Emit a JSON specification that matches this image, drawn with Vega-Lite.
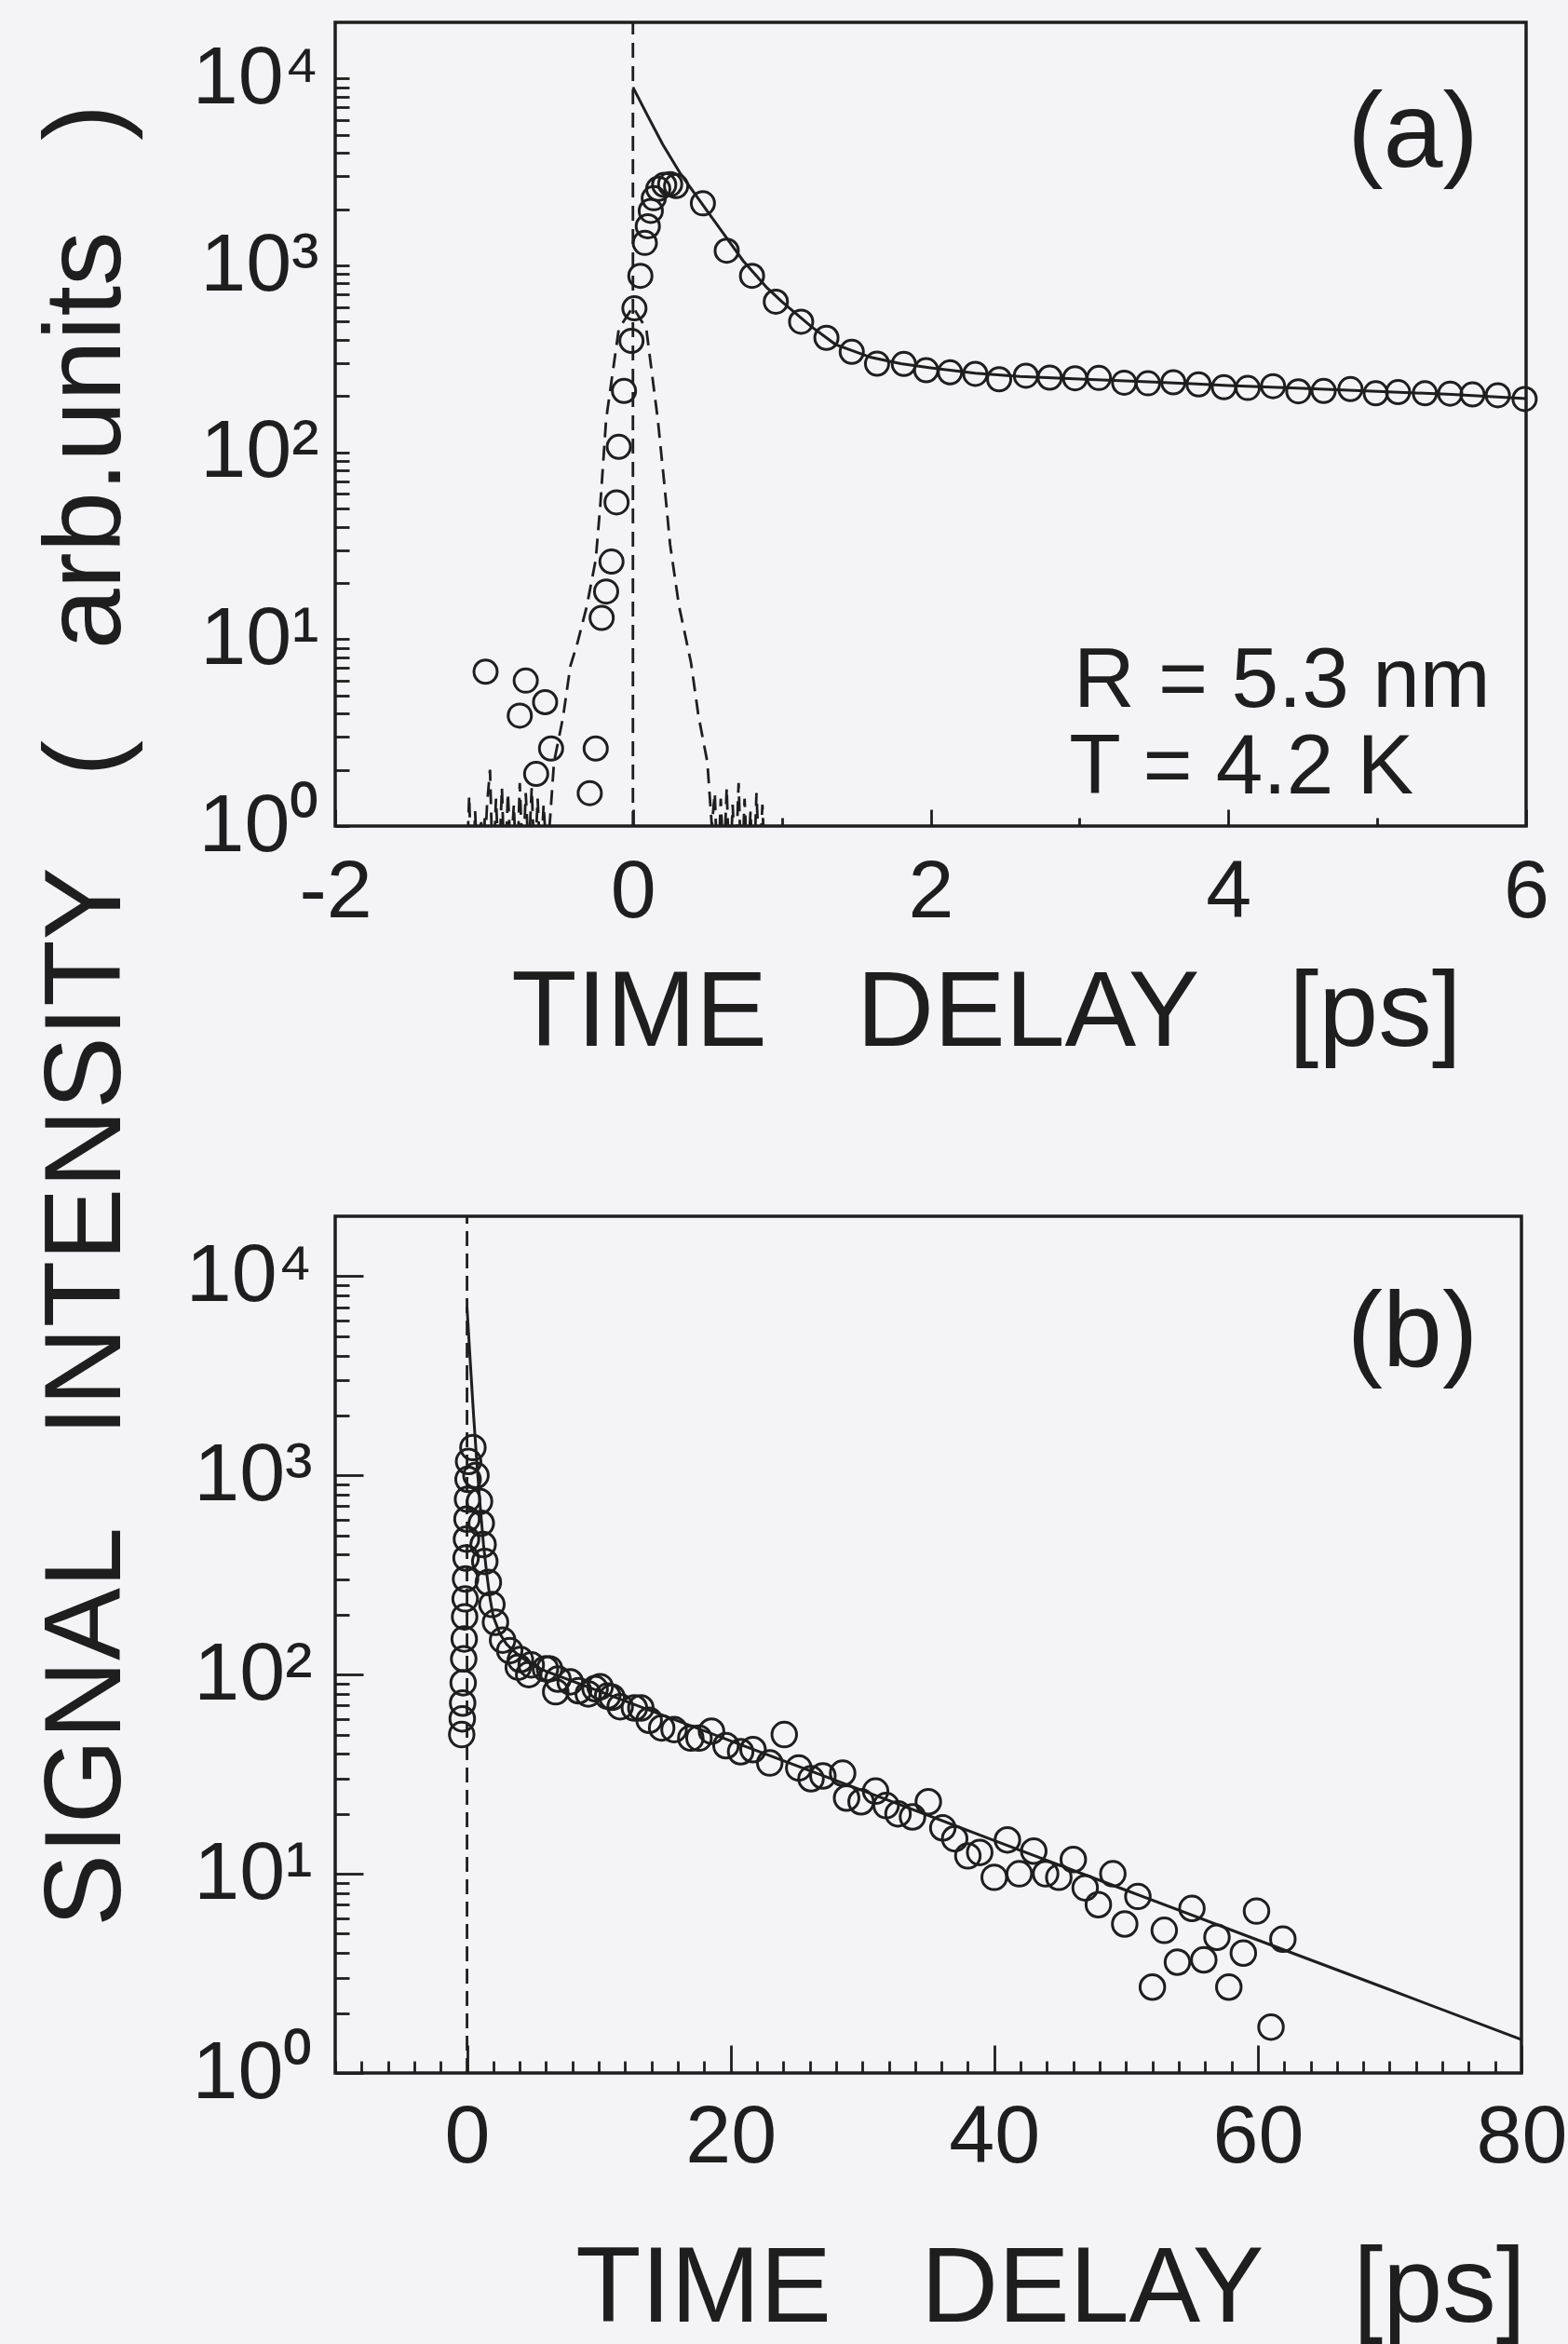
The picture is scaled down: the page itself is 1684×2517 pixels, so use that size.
{
  "$schema": "https://vega.github.io/schema/vega-lite/v6.json",
  "background": "#f4f4f6",
  "padding": {"left": 32, "top": 20, "right": 0, "bottom": 0},
  "bounds": "flush",
  "spacing": 419,
  "config": {
    "view": {"stroke": "#1e1e1e", "strokeWidth": 3.5},
    "axis": {"domain": false, "grid": false, "labelFont": "Liberation Sans", "titleFont": "Liberation Sans", "labelColor": "#1e1e1e", "titleColor": "#1e1e1e", "tickColor": "#1e1e1e", "tickWidth": 2.8, "titleFontWeight": "normal", "labelOverlap": false, "labelBound": false, "labelFlush": false},
    "text": {"font": "Liberation Sans", "color": "#1e1e1e"}
  },
  "datasets": {
    "aPts": [
      {"t": -0.99, "v": 6.7}, {"t": -0.76, "v": 3.9}, {"t": -0.72, "v": 6.0}, {"t": -0.65, "v": 1.9}, {"t": -0.59, "v": 4.6}, {"t": -0.55, "v": 2.6}, {"t": -0.29, "v": 1.5}, {"t": -0.25, "v": 2.6},
      {"t": -0.21, "v": 13}, {"t": -0.18, "v": 18}, {"t": -0.144, "v": 26}, {"t": -0.11, "v": 54}, {"t": -0.095, "v": 107}, {"t": -0.06, "v": 213}, {"t": -0.01, "v": 395}, {"t": 0.01, "v": 590}, {"t": 0.05, "v": 880}, {"t": 0.08, "v": 1320}, {"t": 0.10, "v": 1620}, {"t": 0.12, "v": 1960}, {"t": 0.14, "v": 2290}, {"t": 0.17, "v": 2570}, {"t": 0.21, "v": 2700}, {"t": 0.25, "v": 2720}, {"t": 0.29, "v": 2660},
      {"t": 0.47, "v": 2150}, {"t": 0.63, "v": 1200}, {"t": 0.80, "v": 880}, {"t": 0.96, "v": 640}, {"t": 1.13, "v": 500}, {"t": 1.30, "v": 410}, {"t": 1.47, "v": 345},
      {"t": 1.64, "v": 298}, {"t": 1.82, "v": 297}, {"t": 1.97, "v": 275}, {"t": 2.13, "v": 268}, {"t": 2.30, "v": 263}, {"t": 2.46, "v": 246}, {"t": 2.64, "v": 257}, {"t": 2.80, "v": 251}, {"t": 2.97, "v": 249}, {"t": 3.13, "v": 250}, {"t": 3.30, "v": 236}, {"t": 3.46, "v": 234}, {"t": 3.63, "v": 237}, {"t": 3.80, "v": 231}, {"t": 3.97, "v": 223}, {"t": 4.13, "v": 221}, {"t": 4.30, "v": 226}, {"t": 4.47, "v": 212}, {"t": 4.64, "v": 213}, {"t": 4.82, "v": 218}, {"t": 4.99, "v": 207}, {"t": 5.14, "v": 210}, {"t": 5.32, "v": 207}, {"t": 5.49, "v": 206}, {"t": 5.64, "v": 204}, {"t": 5.81, "v": 202}, {"t": 5.99, "v": 193}
    ],
    "aFit": [
      {"t": 0, "v": 9000}, {"t": 0.1, "v": 6300}, {"t": 0.2, "v": 4450}, {"t": 0.32, "v": 3090}, {"t": 0.5, "v": 1950}, {"t": 0.74, "v": 1060}, {"t": 0.9, "v": 760}, {"t": 1.0, "v": 640}, {"t": 1.2, "v": 470}, {"t": 1.36, "v": 378}, {"t": 1.6, "v": 322}, {"t": 1.8, "v": 298}, {"t": 2.0, "v": 283}, {"t": 2.3, "v": 265}, {"t": 2.6, "v": 255}, {"t": 3.0, "v": 247}, {"t": 3.5, "v": 238}, {"t": 4.0, "v": 228}, {"t": 4.5, "v": 220}, {"t": 5.0, "v": 212}, {"t": 5.5, "v": 204}, {"t": 6.0, "v": 194}
    ],
    "aDash": [
      {"t": -1.12, "v": 0.5}, {"t": -1.10, "v": 1.45}, {"t": -1.08, "v": 0.4}, {"t": -1.06, "v": 1.2}, {"t": -1.04, "v": 0.5}, {"t": -1.02, "v": 1.1}, {"t": -1.00, "v": 0.6}, {"t": -0.98, "v": 1.3}, {"t": -0.96, "v": 2.0}, {"t": -0.94, "v": 0.5}, {"t": -0.92, "v": 1.4}, {"t": -0.90, "v": 0.6}, {"t": -0.88, "v": 1.6}, {"t": -0.86, "v": 0.5}, {"t": -0.84, "v": 1.5}, {"t": -0.82, "v": 0.7}, {"t": -0.80, "v": 1.3}, {"t": -0.78, "v": 0.5}, {"t": -0.76, "v": 1.7}, {"t": -0.74, "v": 0.6}, {"t": -0.72, "v": 1.5}, {"t": -0.70, "v": 0.7}, {"t": -0.68, "v": 1.6}, {"t": -0.66, "v": 0.6}, {"t": -0.64, "v": 1.4}, {"t": -0.62, "v": 0.6}, {"t": -0.60, "v": 1.3}, {"t": -0.58, "v": 0.7},
      {"t": -0.56, "v": 1.0}, {"t": -0.53, "v": 2.2}, {"t": -0.47, "v": 3.8}, {"t": -0.42, "v": 7.2}, {"t": -0.375, "v": 9.4}, {"t": -0.31, "v": 15}, {"t": -0.25, "v": 26.6}, {"t": -0.22, "v": 51}, {"t": -0.18, "v": 150}, {"t": -0.095, "v": 457}, {"t": 0, "v": 600}, {"t": 0.09, "v": 457}, {"t": 0.167, "v": 150}, {"t": 0.21, "v": 69}, {"t": 0.25, "v": 32}, {"t": 0.31, "v": 15}, {"t": 0.39, "v": 7.5}, {"t": 0.44, "v": 3.9}, {"t": 0.5, "v": 2.2}, {"t": 0.53, "v": 1.0},
      {"t": 0.55, "v": 1.5}, {"t": 0.57, "v": 0.5}, {"t": 0.59, "v": 1.4}, {"t": 0.61, "v": 0.6}, {"t": 0.63, "v": 1.6}, {"t": 0.65, "v": 0.5}, {"t": 0.67, "v": 1.3}, {"t": 0.69, "v": 0.6}, {"t": 0.71, "v": 1.7}, {"t": 0.73, "v": 0.5}, {"t": 0.75, "v": 1.4}, {"t": 0.77, "v": 0.6}, {"t": 0.79, "v": 1.2}, {"t": 0.81, "v": 0.5}, {"t": 0.83, "v": 1.5}, {"t": 0.85, "v": 0.6}, {"t": 0.87, "v": 1.3}, {"t": 0.89, "v": 0.5}
    ],
    "aZero": [{"t": 0, "v": 1, "v2": 20000}],
    "aLab": [{"t": 5.68, "v": 3367, "label": "(a)"}],
    "aTxt": [
      {"t": 2.96, "v": 4.33, "label": "R = 5.3 nm"},
      {"t": 2.93, "v": 1.49, "label": "T = 4.2 K"}
    ],
    "bPts": [
      {"t": -0.40, "v": 50}, {"t": -0.36, "v": 60}, {"t": -0.33, "v": 72}, {"t": -0.29, "v": 91}, {"t": -0.25, "v": 120}, {"t": -0.21, "v": 151}, {"t": -0.18, "v": 195}, {"t": -0.14, "v": 240}, {"t": -0.11, "v": 302}, {"t": -0.07, "v": 385}, {"t": -0.04, "v": 479}, {"t": 0.0, "v": 603}, {"t": 0.04, "v": 759}, {"t": 0.08, "v": 955}, {"t": 0.12, "v": 1175},
      {"t": 0.45, "v": 1380}, {"t": 0.68, "v": 1000}, {"t": 0.95, "v": 740}, {"t": 1.08, "v": 575}, {"t": 1.22, "v": 450}, {"t": 1.35, "v": 370}, {"t": 1.62, "v": 290}, {"t": 1.89, "v": 225}, {"t": 2.16, "v": 183}, {"t": 2.70, "v": 149}, {"t": 3.24, "v": 132}, {"t": 3.89, "v": 109}, {"t": 4.05, "v": 119}, {"t": 4.68, "v": 100}, {"t": 4.87, "v": 112}, {"t": 5.95, "v": 107}, {"t": 6.26, "v": 107}, {"t": 6.73, "v": 82}, {"t": 6.9, "v": 95}, {"t": 7.83, "v": 92}, {"t": 8.46, "v": 83}, {"t": 9.2, "v": 80}, {"t": 9.72, "v": 85}, {"t": 10.1, "v": 87}, {"t": 10.67, "v": 78}, {"t": 11.0, "v": 77}, {"t": 11.62, "v": 69}, {"t": 12.7, "v": 68}, {"t": 13.19, "v": 68}, {"t": 13.82, "v": 59}, {"t": 14.77, "v": 54}, {"t": 15.71, "v": 53}, {"t": 16.98, "v": 48}, {"t": 17.6, "v": 48}, {"t": 18.55, "v": 52}, {"t": 19.65, "v": 44}, {"t": 20.76, "v": 41}, {"t": 21.7, "v": 42}, {"t": 22.97, "v": 36}, {"t": 24.07, "v": 50}, {"t": 25.17, "v": 34}, {"t": 26.1, "v": 30}, {"t": 27.0, "v": 31}, {"t": 28.5, "v": 32}, {"t": 28.8, "v": 24}, {"t": 29.9, "v": 23}, {"t": 31.0, "v": 26}, {"t": 31.8, "v": 22}, {"t": 32.7, "v": 20}, {"t": 33.8, "v": 19.3}, {"t": 35.0, "v": 23}, {"t": 36.1, "v": 17}, {"t": 37.0, "v": 15}, {"t": 38.0, "v": 12.3}, {"t": 38.9, "v": 12.8}, {"t": 40.0, "v": 9.6}, {"t": 41.0, "v": 14.8}, {"t": 41.9, "v": 10}, {"t": 43.0, "v": 13}, {"t": 43.9, "v": 10}, {"t": 44.9, "v": 9.6}, {"t": 46.0, "v": 11.8}, {"t": 46.9, "v": 8.5}, {"t": 47.9, "v": 7.0}, {"t": 49.0, "v": 10}, {"t": 49.9, "v": 5.6}, {"t": 50.9, "v": 7.7}, {"t": 52.0, "v": 2.7}, {"t": 52.9, "v": 5.2}, {"t": 53.9, "v": 3.6}, {"t": 55.0, "v": 6.7}, {"t": 55.9, "v": 3.7}, {"t": 56.9, "v": 4.8}, {"t": 57.8, "v": 2.7}, {"t": 58.9, "v": 4.0}, {"t": 59.9, "v": 6.5}, {"t": 61.0, "v": 1.7}, {"t": 61.9, "v": 4.7}
    ],
    "bFit": [
      {"t": 0, "v": 7000}, {"t": 0.25, "v": 3700}, {"t": 0.5, "v": 2000}, {"t": 0.75, "v": 1150}, {"t": 1.0, "v": 700}, {"t": 1.25, "v": 450}, {"t": 1.5, "v": 320}, {"t": 1.75, "v": 240}, {"t": 2.0, "v": 195}, {"t": 2.5, "v": 160}, {"t": 3.0, "v": 142}, {"t": 3.5, "v": 132}, {"t": 4, "v": 124}, {"t": 5, "v": 111}, {"t": 6, "v": 104}, {"t": 10, "v": 82.7}, {"t": 20, "v": 46.5}, {"t": 30, "v": 26.2}, {"t": 40, "v": 14.7}, {"t": 50, "v": 8.27}, {"t": 60, "v": 4.65}, {"t": 70, "v": 2.62}, {"t": 80, "v": 1.47}
    ],
    "bZero": [{"t": 0, "v": 1, "v2": 20000}],
    "bTxt": [{"t": 76.7, "v": 3533, "label": "(b)"}]
  },
  "vconcat": [
    {
      "width": 1279,
      "height": 863,
      "encoding": {
        "x": {"field": "t", "type": "quantitative", "scale": {"domain": [-2, 6], "nice": false, "zero": false},
          "axis": {"values": [-2, -1, 0, 1, 2, 3, 4, 5, 6], "labelExpr": "datum.value % 2 == 0 ? (datum.value < 0 ? '-' + abs(datum.value) : '' + datum.value) : ''", "tickSize": {"condition": {"test": "datum.value % 2 == 0", "value": -18}, "value": -9}, "labelPadding": 45, "labelFontSize": 88, "title": "TIME\u00a0\u00a0\u00a0DELAY\u00a0\u00a0\u00a0[ps]", "titleFontSize": 115, "titleX": 699, "titleY": 235, "titleAlign": "center", "titleBaseline": "alphabetic"}},
        "y": {"field": "v", "type": "quantitative", "scale": {"type": "log", "domain": [1, 20000], "nice": false},
          "axis": {"values": [1,2,3,4,5,6,7,8,9,10,20,30,40,50,60,70,80,90,100,200,300,400,500,600,700,800,900,1000,2000,3000,4000,5000,6000,7000,8000,9000,10000], "labelExpr": "datum.value == 1 ? '10\u2070' : datum.value == 10 ? '10\u00b9' : datum.value == 100 ? '10\u00b2' : datum.value == 1000 ? '10\u00b3' : datum.value == 10000 ? '10\u2074' : ''", "tickSize": -15, "labelPadding": 33, "labelFontSize": 88, "title": "SIGNAL\u00a0\u00a0\u00a0INTENSITY\u00a0\u00a0\u00a0(\u00a0\u00a0\u00a0arb.units\u00a0\u00a0\u00a0)", "titleFontSize": 117, "titleX": -232, "titleY": 1066, "titleAngle": 270, "titleAlign": "center", "titleBaseline": "alphabetic"}}
      },
      "layer": [
        {"data": {"name": "aDash"}, "mark": {"type": "line", "stroke": "#1e1e1e", "strokeWidth": 2.8, "strokeDash": [16, 9], "clip": true}},
        {"data": {"name": "aZero"}, "mark": {"type": "rule", "stroke": "#1e1e1e", "strokeWidth": 2.8, "strokeDash": [16, 9]}, "encoding": {"y2": {"field": "v2"}}},
        {"data": {"name": "aFit"}, "mark": {"type": "line", "stroke": "#1e1e1e", "strokeWidth": 3, "clip": true}},
        {"data": {"name": "aPts"}, "mark": {"type": "point", "shape": "circle", "filled": false, "stroke": "#1e1e1e", "strokeWidth": 3, "size": 625, "opacity": 1}},
        {"data": {"name": "aLab"}, "mark": {"type": "text", "align": "right", "baseline": "alphabetic", "fontSize": 115}, "encoding": {"text": {"field": "label"}}},
        {"data": {"name": "aTxt"}, "mark": {"type": "text", "align": "left", "baseline": "alphabetic", "fontSize": 91}, "encoding": {"text": {"field": "label"}}}
      ]
    },
    {
      "width": 1274,
      "height": 920,
      "encoding": {
        "x": {"field": "t", "type": "quantitative", "scale": {"domain": [-10, 80], "nice": false, "zero": false},
          "axis": {"values": [-10,-8,-6,-4,-2,0,2,4,6,8,10,12,14,16,18,20,22,24,26,28,30,32,34,36,38,40,42,44,46,48,50,52,54,56,58,60,62,64,66,68,70,72,74,76,78,80], "labelExpr": "datum.value >= 0 && datum.value % 20 == 0 ? '' + datum.value : ''", "tickSize": {"condition": {"test": "datum.value % 20 == 0", "value": -30}, "value": -13}, "labelPadding": 55, "labelFontSize": 88, "title": "TIME\u00a0\u00a0\u00a0DELAY\u00a0\u00a0\u00a0[ps]", "titleFontSize": 115, "titleX": 768, "titleY": 266, "titleAlign": "center", "titleBaseline": "alphabetic"}},
        "y": {"field": "v", "type": "quantitative", "scale": {"type": "log", "domain": [1, 20000], "nice": false},
          "axis": {"values": [1,2,3,4,5,6,7,8,9,10,20,30,40,50,60,70,80,90,100,200,300,400,500,600,700,800,900,1000,2000,3000,4000,5000,6000,7000,8000,9000,10000], "labelExpr": "datum.value == 1 ? '10\u2070' : datum.value == 10 ? '10\u00b9' : datum.value == 100 ? '10\u00b2' : datum.value == 1000 ? '10\u00b3' : datum.value == 10000 ? '10\u2074' : ''", "tickSize": {"condition": {"test": "datum.value == 1 || datum.value == 10 || datum.value == 100 || datum.value == 1000 || datum.value == 10000", "value": -30}, "value": -15}, "labelPadding": 55, "labelFontSize": 88, "title": null}}
      },
      "layer": [
        {"data": {"name": "bZero"}, "mark": {"type": "rule", "stroke": "#1e1e1e", "strokeWidth": 2.8, "strokeDash": [16, 8]}, "encoding": {"y2": {"field": "v2"}}},
        {"data": {"name": "bFit"}, "mark": {"type": "line", "stroke": "#1e1e1e", "strokeWidth": 3, "clip": true}},
        {"data": {"name": "bPts"}, "mark": {"type": "point", "shape": "circle", "filled": false, "stroke": "#1e1e1e", "strokeWidth": 3, "size": 700, "opacity": 1}},
        {"data": {"name": "bTxt"}, "mark": {"type": "text", "align": "right", "baseline": "alphabetic", "fontSize": 115}, "encoding": {"text": {"field": "label"}}}
      ]
    }
  ]
}
